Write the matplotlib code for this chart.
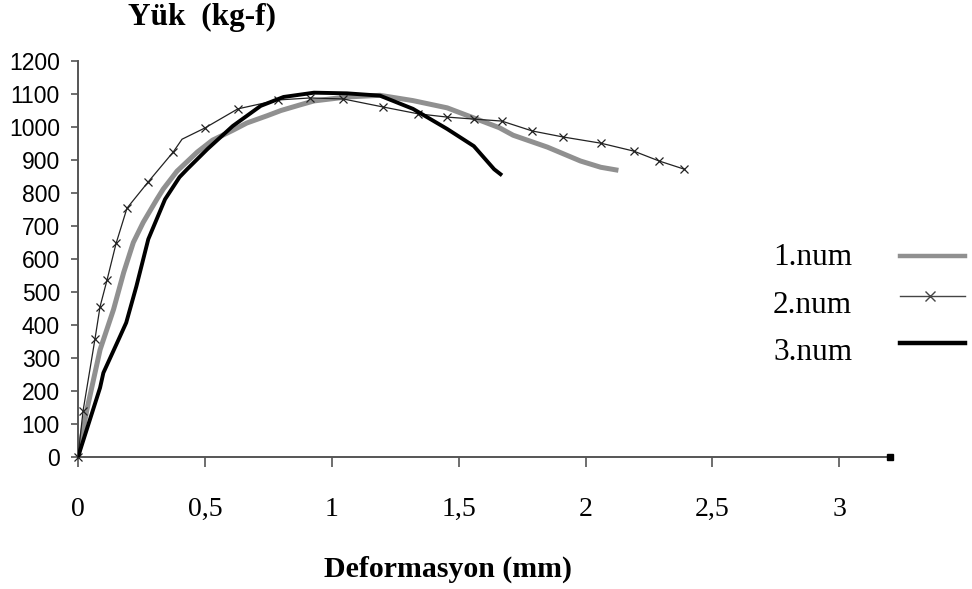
import matplotlib
matplotlib.use("Agg")
import matplotlib.pyplot as plt
from matplotlib.lines import Line2D

# ---- data ----
def1 = [0, 0.035, 0.087, 0.14, 0.18, 0.218, 0.257, 0.31, 0.336, 0.39, 0.47, 0.53,
        0.61, 0.665, 0.745, 0.8, 0.875, 0.93, 1.06, 1.19, 1.32, 1.455, 1.585, 1.66,
        1.715, 1.85, 1.98, 2.06, 2.12]
load1 = [0, 143, 325, 447, 559, 650, 711, 780, 812, 866, 924, 960,
         990, 1012, 1034, 1050, 1067, 1079, 1091, 1096, 1080, 1058, 1020, 998,
         975, 939, 897, 878, 870]

def2 = [0, 0.02, 0.067, 0.087, 0.114, 0.15, 0.193, 0.276, 0.375, 0.41, 0.5, 0.63,
        0.79, 0.915, 1.045, 1.2, 1.34, 1.455, 1.56, 1.67, 1.79, 1.91, 2.06, 2.19,
        2.29, 2.39]
load2 = [0, 140, 358, 456, 535, 647, 754, 833, 924, 963, 997, 1055,
         1082, 1088, 1085, 1061, 1040, 1030, 1024, 1018, 988, 970, 951, 927,
         897, 872]

def3 = [0, 0.087, 0.1, 0.16, 0.19, 0.23, 0.277, 0.343, 0.4, 0.43, 0.51, 0.61,
        0.72, 0.81, 0.93, 1.06, 1.19, 1.32, 1.455, 1.56, 1.64, 1.665]
load3 = [0, 210, 255, 356, 407, 517, 660, 781, 848, 872, 933, 1003,
         1064, 1091, 1104, 1102, 1095, 1055, 994, 942, 872, 857]

series_labels = ["1.num", "2.num", "3.num"]
xticks = [0, 0.5, 1, 1.5, 2, 2.5, 3]
xticklabels = ["0", "0,5", "1", "1,5", "2", "2,5", "3"]
yticks = list(range(0, 1201, 100))

W, H = 972, 589
fig = plt.figure(figsize=(W / 100, H / 100), dpi=100)
ax = fig.add_axes([78 / W, 1 - 457 / H, (890 - 78) / W, (457 - 61) / H])

c1, c2, c3 = "#909090", "#222222", "#000000"
ax.plot(def1, load1, color=c1, lw=3.6, solid_joinstyle="round", zorder=2)
mk = [i for i in range(len(def2)) if i != 9]
ax.plot(def2, load2, color=c2, lw=0.9, marker="x", ms=6, mew=0.9,
        markevery=mk, zorder=3, clip_on=False)
ax.plot(def3, load3, color=c3, lw=2.8, solid_joinstyle="round", zorder=4)

ax.set_xlim(0, 3.2)
ax.set_ylim(0, 1200)
for s in ["top", "right"]:
    ax.spines[s].set_visible(False)
for s in ["left", "bottom"]:
    ax.spines[s].set_color("#555555")
    ax.spines[s].set_linewidth(1.4)
ax.plot([3.2], [0], marker="s", ms=4, color="black", clip_on=False, zorder=5)

ax.set_xticks(xticks)
ax.set_xticklabels(xticklabels, fontfamily="Liberation Serif", fontsize=20)
ax.set_yticks(yticks)
ax.set_yticklabels([str(v) for v in yticks], fontfamily="Liberation Sans", fontsize=16.5)
ax.tick_params(axis="x", length=7, width=1.2, color="#555555", pad=22)
ax.tick_params(axis="y", length=5, width=1.2, color="#555555", pad=8)

fig.text(202 / W, 1 - 25 / H, "Yük  (kg-f)", ha="center", va="baseline",
         fontfamily="Liberation Serif", fontweight="bold", fontsize=22.5)
fig.text(448 / W, 1 - 577 / H, "Deformasyon (mm)", ha="center", va="baseline",
         fontfamily="Liberation Serif", fontweight="bold", fontsize=21.5)

# legend (text left, line sample right)
leg_base = [265, 313, 360]
leg_line_y = [256, 296, 343]
styles = [dict(color=c1, lw=3.2), dict(color="#444444", lw=1.0, marker="x", ms=7,
          markevery=[1]), dict(color=c3, lw=3.2)]
for lab, yb, yl, st in zip(series_labels, leg_base, leg_line_y, styles):
    fig.text(773 / W, 1 - yb / H, lab, ha="left", va="baseline",
             fontfamily="Liberation Serif", fontsize=22.5)
    xs = [900 / W, 930 / W, 965 / W]
    fig.add_artist(Line2D(xs, [1 - yl / H] * 3, transform=fig.transFigure, **st))

fig.savefig("out.png", dpi=100)
